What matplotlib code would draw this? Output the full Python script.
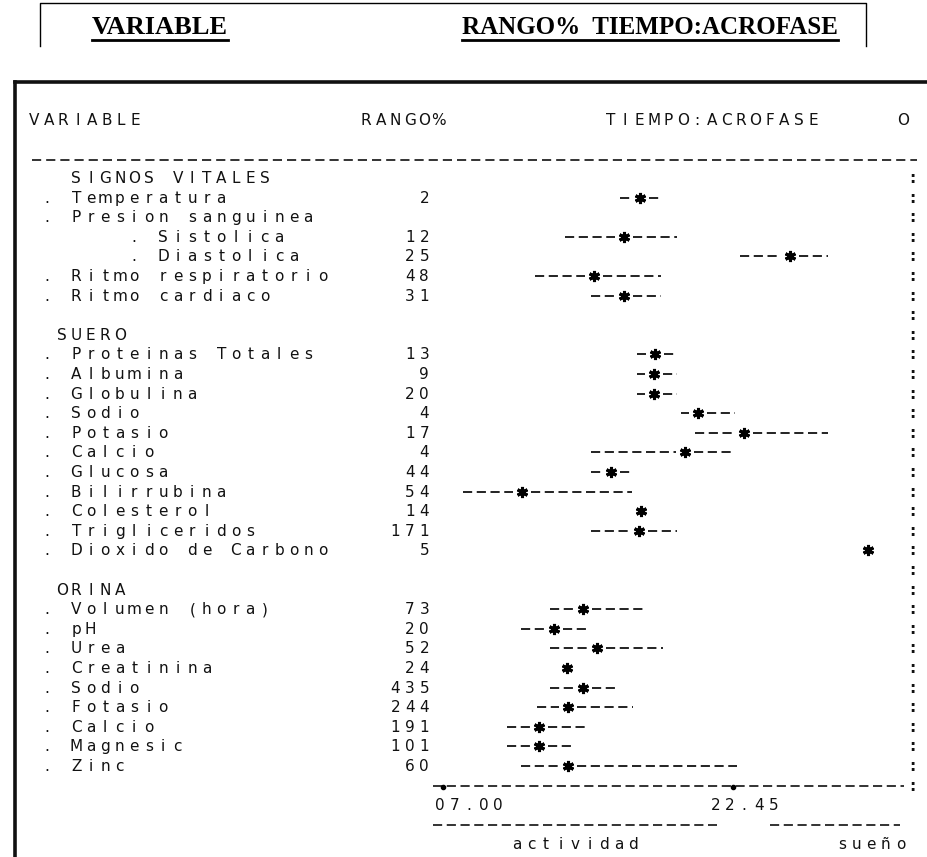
import matplotlib
matplotlib.use("Agg")
import matplotlib.pyplot as plt

plt.rcParams['lines.scale_dashes'] = False

# filas del listado (texto tal como sale impreso)
etiquetas = ["  SIGNOS VITALES", ". Temperatura", ". Presion sanguinea",
             "      . Sistolica", "      . Diastolica", ". Ritmo respiratorio",
             ". Ritmo cardiaco", "", " SUERO", ". Proteinas Totales",
             ". Albumina", ". Globulina", ". Sodio", ". Potasio", ". Calcio",
             ". Glucosa", ". Bilirrubina", ". Colesterol", ". Trigliceridos",
             ". Dioxido de Carbono", "", " ORINA", ". Volumen (hora)", ". pH",
             ". Urea", ". Creatinina", ". Sodio", ". Fotasio", ". Calcio",
             ". Magnesic", ". Zinc"]

# filas que llevan dato (indice en etiquetas)
filas_dato = [1, 3, 4, 5, 6, 9, 10, 11, 12, 13, 14, 15, 16, 17, 18, 19,
              22, 23, 24, 25, 26, 27, 28, 29, 30]
rango = [2, 12, 25, 48, 31, 13, 9, 20, 4, 17, 4, 44, 54, 14, 171, 5,
         73, 20, 52, 24, 435, 244, 191, 101, 60]
# horas (desde las 00.00 del dia de actividad; >24 = madrugada siguiente)
acrofase = [17.70, 16.83, 25.85, 15.20, 16.83, 18.52, 18.46, 18.46, 20.85,
            23.35, 20.14, 16.13, 11.29, 17.76, 17.65, 30.09,
            14.60, 13.03, 15.37, 13.74, 14.60, 13.79, 12.21, 12.21, 13.79]
lim_inf = [16.61, 13.63, 23.13, 12.00, 15.04, 17.54, 17.54, 17.54, 19.93,
           20.69, 15.04, 15.04, 8.09, 17.76, 15.04, 30.09,
           12.81, 11.24, 12.81, 13.74, 12.81, 12.11, 10.48, 10.48, 11.24]
lim_sup = [18.90, 19.71, 27.91, 18.84, 18.84, 19.66, 19.71, 19.71, 22.86,
           27.91, 22.86, 17.27, 17.27, 17.76, 19.71, 30.09,
           17.92, 14.88, 18.95, 13.74, 16.45, 17.32, 14.88, 14.06, 22.97]

marcas = [7.0, 22.75]
marcas_txt = ["07.00", "22.45"]
eje = (6.45, 32.05)
periodos = ["actividad", "sueño"]
periodo_ini = [6.45, 24.75]
periodo_fin = [21.9, 31.8]

W, H = 928, 857
ROW0, ROWH = 178, 19.6
PITCH = 14.5
PXH = 18.41          # pixeles por hora
X07 = 443            # pixel de las 07.00

fig = plt.figure(figsize=(W / 100, H / 100), dpi=100)
bg = fig.add_axes([0, 0, 1, 1])
bg.set_xlim(0, W)
bg.set_ylim(H, 0)
bg.axis('off')

ax = fig.add_axes([0, 0, 1, 1])
ax.patch.set_alpha(0)
ax.set_xlim(7 - X07 / PXH, 7 + (W - X07) / PXH)
ax.set_ylim((H - ROW0) / ROWH, -ROW0 / ROWH)
ax.axis('off')


def mono(x, y, s, ha='left', **kw):
    # texto de impresora: un caracter por celda
    n = len(s)
    if ha == 'right':
        x = x - n * PITCH
    elif ha == 'center':
        x = x - n * PITCH / 2
    for k, ch in enumerate(s):
        if ch != ' ':
            bg.text(x + (k + 0.5) * PITCH, y, ch, ha='center', va='baseline',
                    fontsize=11, color='#111', **kw)


def fila_y(i):
    return ROW0 + ROWH * i


# titulo
bg.plot([40, 40, 866, 866], [46, 3, 3, 46], color='k', lw=1.0)
t1 = bg.text(92, 34, "VARIABLE", family='Liberation Serif', weight='bold',
             fontsize=19, va='baseline')
t2 = bg.text(462, 34, "RANGO%  TIEMPO:ACROFASE", family='Liberation Serif',
             weight='bold', fontsize=18, va='baseline')
fig.canvas.draw()
inv = bg.transData.inverted()
for t in (t1, t2):
    bb = t.get_window_extent()
    x0 = inv.transform((bb.x0, bb.y0))[0]
    x1 = inv.transform((bb.x1, bb.y0))[0]
    bg.plot([x0, x1], [40, 40], color='k', lw=2)

# marco del listado
bg.plot([15, W], [82, 82], color='#111', lw=2.6)
bg.plot([15, 15], [82, H], color='#111', lw=2.6)

# cabecera
mono(27, 125, "VARIABLE")
mono(359, 125, "RANGO%")
mono(603, 125, "TIEMPO:ACROFASE")
mono(903, 125, "O", ha='center')
bg.plot([32, 917], [160, 160], color='#111', lw=1.2, dashes=(6.6, 3.6))

# columnas de texto
for i, s in enumerate(etiquetas):
    mono(40, fila_y(i) + 5, s)
for i, r in zip(filas_dato, rango):
    mono(431.5, fila_y(i) + 5, str(r), ha='right')
for i in range(len(etiquetas) + 1):
    mono(912, fila_y(i) + 5, ":", ha='center', weight='bold')

# intervalos y acrofases
for i, a, lo, hi in zip(filas_dato, acrofase, lim_inf, lim_sup):
    if a - 0.5 > lo + 0.05:
        ax.plot([lo, a - 0.5], [i, i], color='#111', lw=1.3,
                dashes=(6.6, 3.3), solid_capstyle='butt')
    if hi - 0.05 > a + 0.5:
        ax.plot([a + 0.5, hi], [i, i], color='#111', lw=1.3,
                dashes=(6.6, 3.3), solid_capstyle='butt')
ax.plot(acrofase, filas_dato, ls='none', marker=(6, 2, 0), ms=8, mew=2.2,
        color='k')

# eje de tiempo
fe = len(etiquetas)
ax.plot(list(eje), [fe, fe], color='#111', lw=1.2, dashes=(6.6, 3.3))
ax.plot(marcas, [fe + 0.05] * len(marcas), ls='none', marker='o', ms=3,
        color='k')
for m, t, dx in zip(marcas, marcas_txt, [-10, -25]):
    xp = X07 + (m - 7) * PXH + dx
    mono(xp, fila_y(fe + 1) + 5, t)

# actividad / sueño
for p, a, b, ha in zip(periodos, periodo_ini, periodo_fin, ['center', 'right']):
    ax.plot([a, b], [fe + 2, fe + 2], color='#111', lw=1.2, dashes=(6.6, 3.3))
    if ha == 'center':
        xp = X07 + ((a + b) / 2 - 7) * PXH
    else:
        xp = X07 + (b - 7) * PXH + 8
    mono(xp, fila_y(fe + 3) + 5, p, ha=ha)

fig.savefig("out.png", dpi=100)
